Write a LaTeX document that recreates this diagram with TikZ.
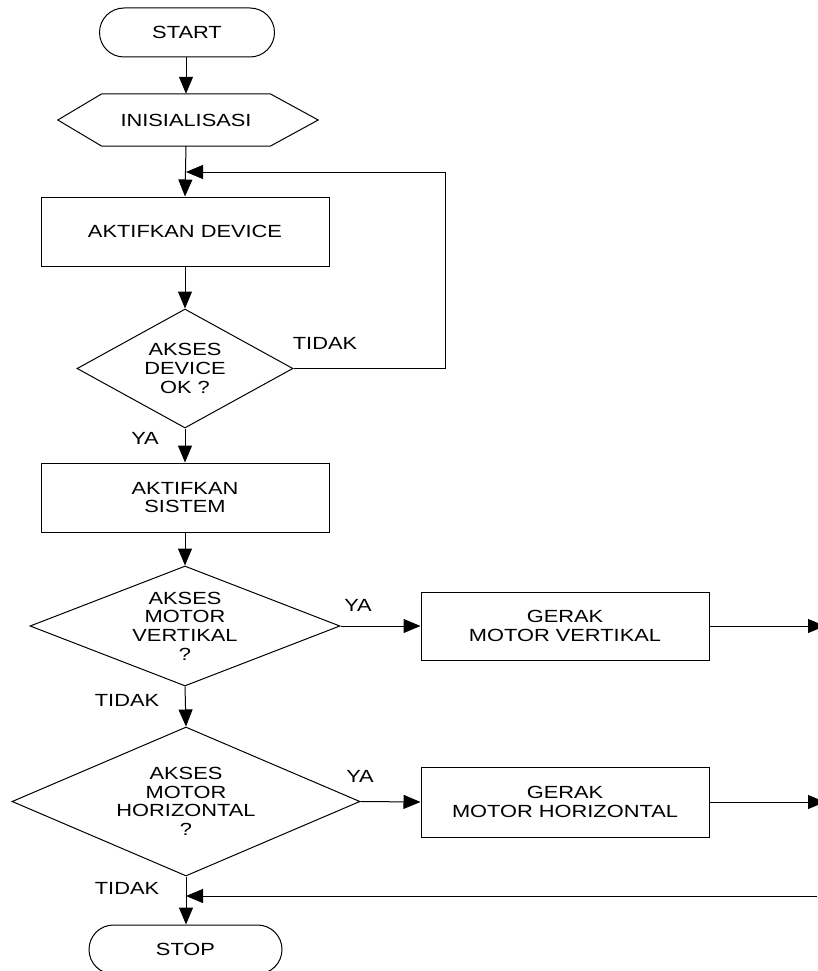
\documentclass[tikz,border=0pt]{standalone}
\usepackage{fontspec}
\setmainfont{Liberation Sans}[FakeStretch=1.24]
\usetikzlibrary{shapes.geometric,shapes.misc,arrows.meta}
\begin{document}
\begin{tikzpicture}[x=1pt,y=-1pt,
  every node/.style={font=\fontsize{17.6}{18.6}\selectfont, align=center, inner sep=0pt},
  term/.style={draw, rounded rectangle, minimum height=49pt, line width=1pt},
  procbox/.style={draw, rectangle, minimum width=288pt, line width=1pt},
  decision/.style={draw, diamond, line width=1pt},
  lbl/.style={anchor=center},
  arr/.style={line width=1pt, -{Triangle[length=17pt,width=14pt]}},
  plain/.style={line width=1pt}]
\useasboundingbox (0,0) rectangle (817,971);

% nodes
\node[term, minimum width=175pt] (start) at (187,32.5) {START};
\node[minimum width=168pt, minimum height=52pt] (init) at (186,120) {INISIALISASI};
\draw[plain] (init.north west) -- (init.north east) -- ([xshift=48pt]init.east)
  -- (init.south east) -- (init.south west) -- ([xshift=-44pt]init.west) -- cycle;
\node[procbox, minimum height=69pt] (dev) at (185,231.5) {AKTIFKAN DEVICE};
\node[decision, aspect=1.815, minimum width=216pt, minimum height=119pt] (d1) at (185,368.5) {AKSES\\DEVICE\\OK ?};
\node[procbox, minimum height=69pt] (sis) at (185,497.5) {AKTIFKAN\\SISTEM};
\node[decision, aspect=2.58, minimum width=310pt, minimum height=120pt] (d2) at (185,626) {AKSES\\MOTOR\\VERTIKAL\\?};
\node[procbox, minimum height=68pt] (gv) at (565,626) {GERAK\\MOTOR VERTIKAL};
\node[decision, aspect=2.33, minimum width=348pt, minimum height=149pt] (d3) at (186,801.5) {AKSES\\MOTOR\\HORIZONTAL\\?};
\node[procbox, minimum height=70pt] (gh) at (565,802) {GERAK\\MOTOR HORIZONTAL};
\node[term, minimum width=193pt] (stop) at (185.5,949.5) {STOP};

% labels
\node[lbl] (t1) at (325,343) {TIDAK};
\node[lbl] (y1) at (145,438) {YA};
\node[lbl] (y2) at (358,605) {YA};
\node[lbl] (t2) at (127,700) {TIDAK};
\node[lbl] (y3) at (360,776) {YA};
\node[lbl] (t3) at (127,888) {TIDAK};

% coordinates
\coordinate (j1) at (186,172);
\coordinate (j2) at (186,896);
\coordinate (rv) at (825,626);
\coordinate (rh) at (825,802);
\coordinate (rb) at (817,896);

% connectors
\draw[arr] (start.south -| init.north) -- (init.north);
\draw[arr] (init.south) -- (dev.north);
\draw[arr] (d1.east) -- (445,368.5) |- (j1);
\draw[arr] (dev.south) -- (d1.north);
\draw[arr] (d1.south) -- (sis.north);
\draw[arr] (sis.south) -- (d2.north);
\draw[arr] (d2.east) -- (gv.west);
\draw[arr] (gv.east) -- (rv);
\draw[arr] (d2.south) -- (d3.north);
\draw[arr] (d3.east) -- (gh.west);
\draw[arr] (gh.east) -- (rh);
\draw[arr] (d3.south) -- (d3.south |- stop.north);
\draw[arr] (rb) -- (j2);
\end{tikzpicture}
\end{document}
